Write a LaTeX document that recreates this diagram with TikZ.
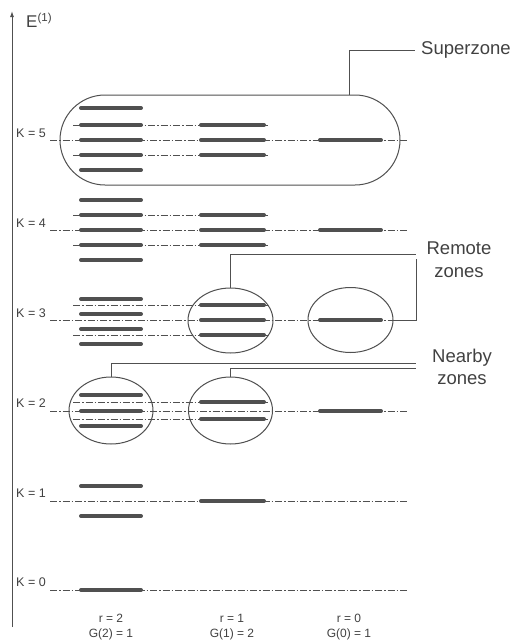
\documentclass[tikz,border=0pt]{standalone}
\usepackage{fontspec}
\setmainfont{Liberation Sans}
\usetikzlibrary{shapes.geometric,arrows.meta}
\definecolor{ink}{RGB}{80,80,80}
\definecolor{txt}{RGB}{65,65,65}
\tikzset{
  bar/.style={draw=ink,line width=4pt,line cap=round},
  dd/.style={draw=ink,line width=0.9pt,dash pattern=on 7pt off 2pt on 1.5pt off 2pt},
  thin/.style={draw=ink,line width=1pt},
  zone/.style={ellipse,draw=ink,line width=1pt,minimum width=85pt,minimum height=66pt,inner sep=0pt},
  klab/.style={anchor=west,text=txt,font=\fontsize{12.5}{14}\selectfont,inner sep=0pt},
  blab/.style={text=txt,font=\fontsize{12}{14}\selectfont,inner sep=0pt},
  big/.style={text=txt,font=\fontsize{18.5}{23}\selectfont,inner sep=0pt,align=center},
}
\begin{document}
\begin{tikzpicture}[x=1pt,y=-1pt]
\useasboundingbox (0,0) rectangle (516,643);
% axis
\coordinate (ab) at (12,627);
\coordinate (at) at (12,11);
\draw[thin,-{Latex[length=6pt,width=4pt]}] (ab) -- (at);
\node[anchor=west,text=txt,font=\fontsize{17}{19}\selectfont,inner sep=0pt] (E) at (26,20) {E$^{\mbox{\fontsize{11.5}{12}\selectfont(1)}}$};
% centre dash-dot lines
\foreach \y in {140,230,320,411,501,590} {\draw[dd] (50,\y) -- (408,\y);}
% sub dash-dot lines
\foreach \y in {125,155,215,245,305,335,402,419} {\draw[dd] (73,\y) -- (268,\y);}
% column 1 bars
\foreach \y in {108,125,140,155,170, 200,215,230,245,260, 299,314,329,344, 395,411,426, 486,516, 590}
  {\draw[bar] (81,\y) -- (141,\y);}
% column 2 bars
\foreach \y in {125,140,155, 215,230,245, 305,320,335, 402,419, 501}
  {\draw[bar] (201,\y) -- (264,\y);}
% column 3 bars
\foreach \y in {140,230,320,411}
  {\draw[bar] (320,\y) -- (381,\y);}
% K labels
\node[klab] (k5) at (16,133) {K = 5};
\node[klab] (k4) at (16,223) {K = 4};
\node[klab] (k3) at (16,313) {K = 3};
\node[klab] (k2) at (16,403) {K = 2};
\node[klab] (k1) at (16,493) {K = 1};
\node[klab] (k0) at (16,582) {K = 0};
% superzone
\node[draw=ink,line width=1pt,rounded corners=45pt,minimum width=340pt,minimum height=90pt,inner sep=0pt] (sz) at (230,140) {};
\coordinate (szc) at (349,50);
\node[big,anchor=west] (szt) at (421,50) {Superzone};
\draw[thin] (sz.north -| szc) -- (szc) -- (415,50);
% zones
\node[zone,minimum height=65pt] (r1) at (230.5,320.5) {};
\node[zone,minimum height=65pt] (r0) at (350.5,320) {};
\node[zone,minimum height=67pt,minimum width=84pt] (n2) at (111,410.5) {};
\node[zone,minimum height=67pt,minimum width=84pt] (n1) at (230.5,410.5) {};
% remote leaders
\coordinate (ra) at (230.5,254);
\coordinate (rb) at (416,254);
\coordinate (rc) at (416,320);
\coordinate (rd) at (416,259);
\draw[thin] (r1.north) -- (ra) -- (rb);
\draw[thin] (r0.east) -- (rc) -- (rd);
\node[big] (rt) at (459,260) {Remote\\zones};
% nearby leaders
\coordinate (na) at (111,363);
\coordinate (nb) at (416,363);
\coordinate (nc) at (230.5,368);
\coordinate (nd) at (416,368);
\draw[thin] (n2.north) -- (na) -- (nb);
\draw[thin] (n1.north) -- (nc) -- (nd);
\node[big,font=\fontsize{18.5}{22}\selectfont] (nt) at (462,367) {Nearby\\zones};
% bottom labels
\node[blab] (r2l) at (111,618) {r = 2};
\node[blab] (g2l) at (111,634) {G(2) = 1};
\node[blab] (r1l) at (232,618) {r = 1};
\node[blab] (g1l) at (232,634) {G(1) = 2};
\node[blab] (r0l) at (349,618) {r = 0};
\node[blab] (g0l) at (349,634) {G(0) = 1};
\end{tikzpicture}
\end{document}
